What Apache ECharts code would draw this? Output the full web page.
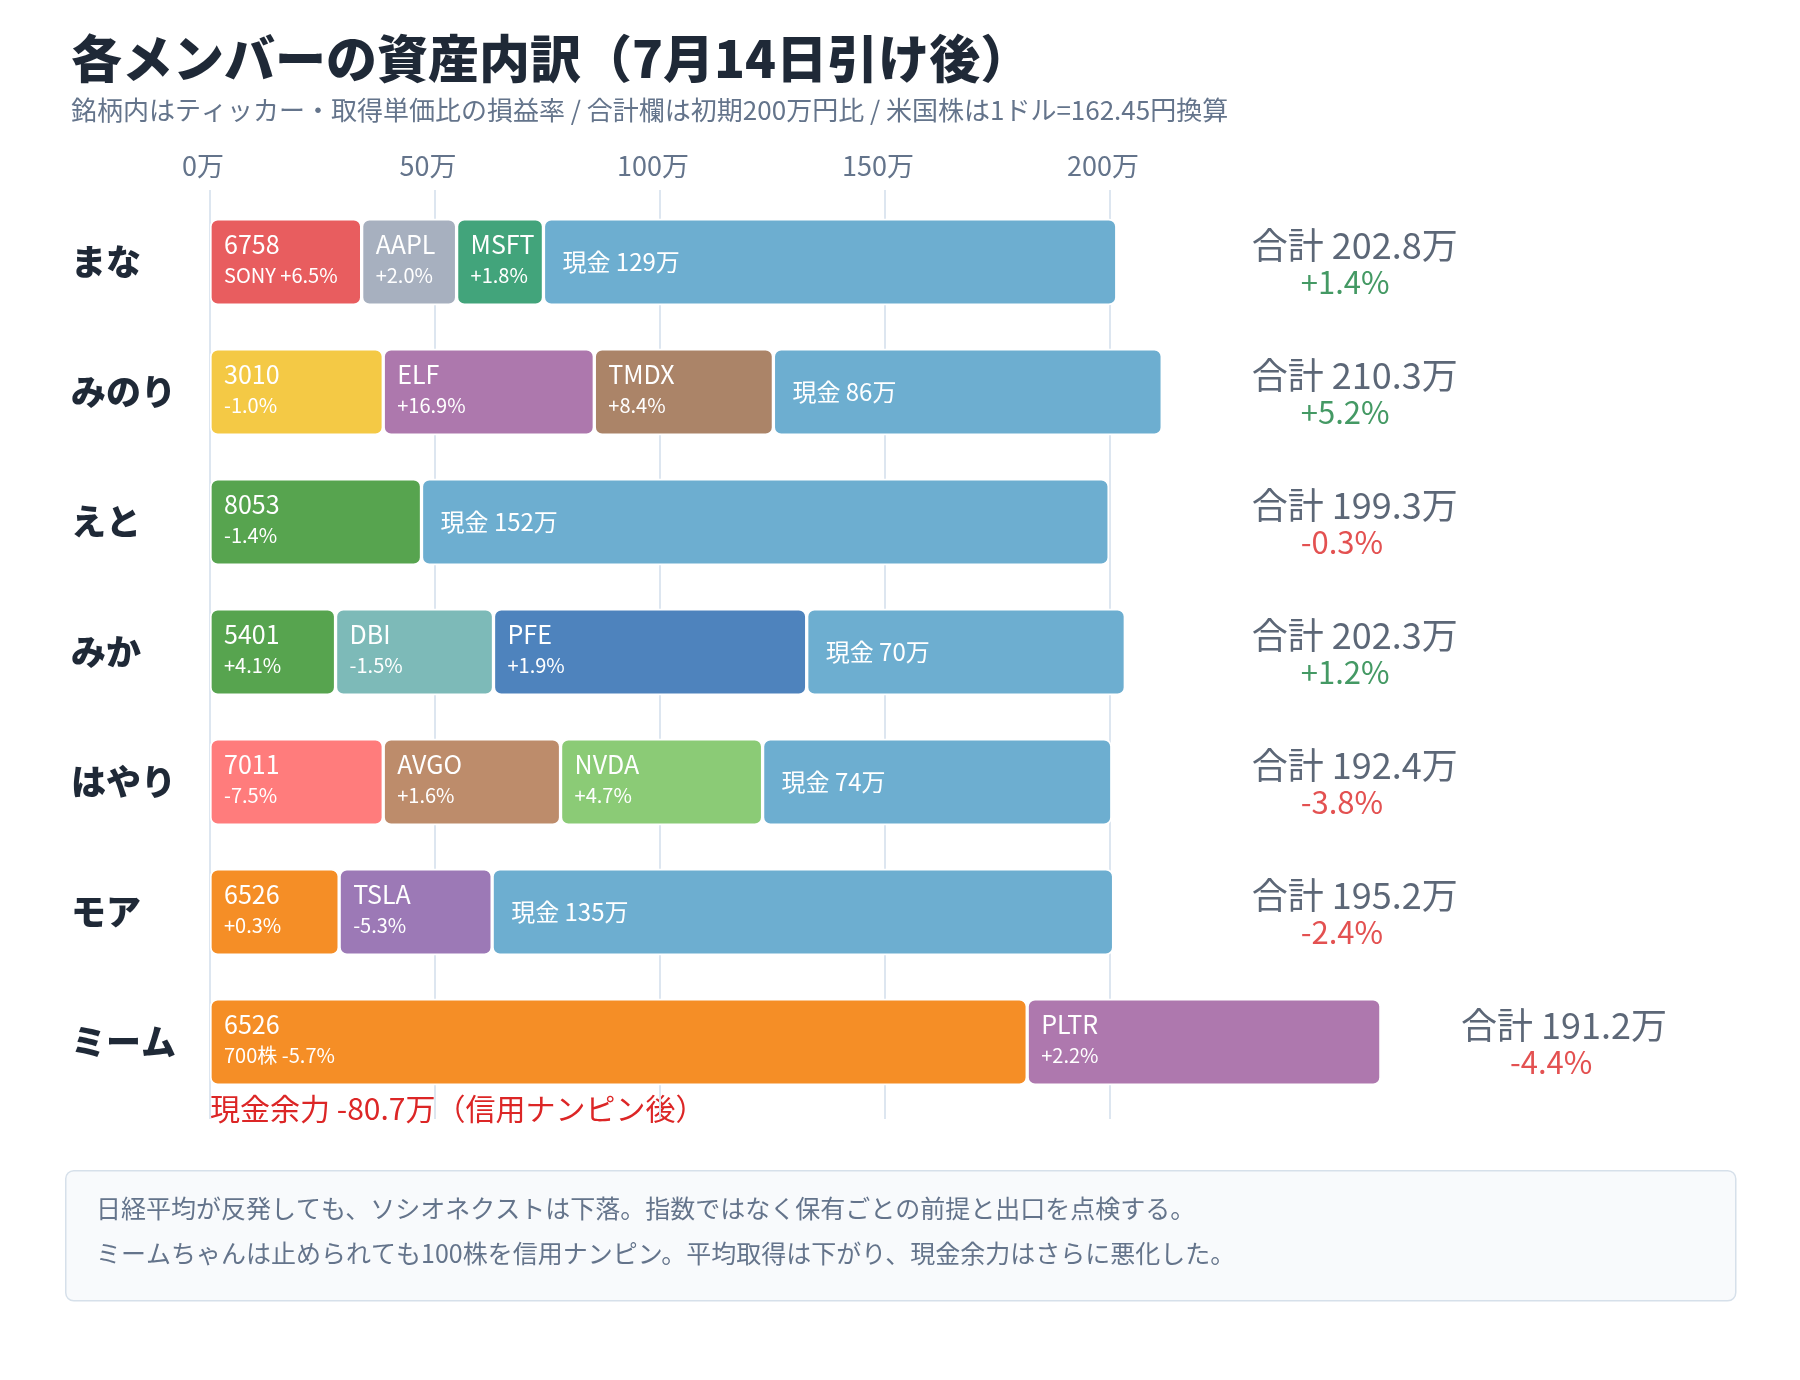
<!DOCTYPE html>
<html lang="ja">
<head>
<meta charset="utf-8">
<title>各メンバーの資産内訳</title>
<script src="https://cdn.jsdelivr.net/npm/echarts@6/dist/echarts.min.js"></script>
<style>
  html, body { margin: 0; padding: 0; background: #fff; }
  #chart { width: 1800px; height: 1380px; }
</style>
</head>
<body>
<div id="chart"></div>
<script>
// --- data (万円) ---
const members = ["まな", "みのり", "えと", "みか", "はやり", "モア", "ミーム"];
const tickers = [
  ["6758", "AAPL", "MSFT"],
  ["3010", "ELF", "TMDX"],
  ["8053"],
  ["5401", "DBI", "PFE"],
  ["7011", "AVGO", "NVDA"],
  ["6526", "TSLA"],
  ["6526", "PLTR"]
];
const subLabels = [
  ["SONY +6.5%", "+2.0%", "+1.8%"],
  ["-1.0%", "+16.9%", "+8.4%"],
  ["-1.4%"],
  ["+4.1%", "-1.5%", "+1.9%"],
  ["-7.5%", "+1.6%", "+4.7%"],
  ["+0.3%", "-5.3%"],
  ["700株 -5.7%", "+2.2%"]
];
const stockValues = [
  [33.7, 21.1, 19.3],
  [38.5, 46.9, 39.8],
  [47.0],
  [27.9, 35.1, 69.6],
  [38.5, 39.4, 44.9],
  [28.7, 34.0],
  [181.6, 78.6]
];
const cashValues = [127.4, 86.4, 152.8, 70.8, 77.6, 138.1, null];
const cashLabels = [129, 86, 152, 70, 74, 135, null];
const totals = [202.8, 210.3, 199.3, 202.3, 192.4, 195.2, 191.2];
const totalChange = [1.4, 5.2, -0.3, 1.2, -3.8, -2.4, -4.4];
const creditCash = -80.7;
const xTicks = [0, 50, 100, 150, 200];

const title = "各メンバーの資産内訳（7月14日引け後）";
const subtitle = "銘柄内はティッカー・取得単価比の損益率 / 合計欄は初期200万円比 / 米国株は1ドル=162.45円換算";
const notes = [
  "日経平均が反発しても、ソシオネクストは下落。指数ではなく保有ごとの前提と出口を点検する。",
  "ミームちゃんは止められても100株を信用ナンピン。平均取得は下がり、現金余力はさらに悪化した。"
];

// --- styles ---
const FONT = "'Noto Sans CJK JP', 'Noto Sans', sans-serif";
const tickerColors = {
  "6758": "#e85d5f", "AAPL": "#a7b0bf", "MSFT": "#42a47b",
  "3010": "#f4c945", "ELF": "#ad78ad", "TMDX": "#ab8468",
  "8053": "#57a44f", "5401": "#57a44f", "DBI": "#7dbab8", "PFE": "#4e83bd",
  "7011": "#ff7c7c", "AVGO": "#bd8c6b", "NVDA": "#8bcb76",
  "6526": "#f58e26", "TSLA": "#9c79b6", "PLTR": "#ae78ae"
};
const cashColor = "#6daed0";
const gridColor = "#dde6f0";

const chart = echarts.init(document.getElementById("chart"));

const barBase = {
  type: "bar",
  stack: "total",
  barWidth: 86.5,
  clip: false,
  silent: true,
  itemStyle: { borderRadius: 7, borderColor: "#fff", borderWidth: 1.65 }
};

const slotSeries = [0, 1, 2].map(function (slot) {
  return Object.assign({}, barBase, {
    name: "slot" + slot,
    label: {
      show: true,
      position: "insideLeft",
      distance: 14,
      offset: [0, -2],
      fontFamily: FONT,
      formatter: function (p) {
        return "{t|" + tickers[p.dataIndex][slot] + "}\n{s|" + subLabels[p.dataIndex][slot] + "}";
      },
      rich: {
        t: { fontFamily: FONT, fontSize: 25, lineHeight: 30, color: "#fff" },
        s: { fontFamily: FONT, fontSize: 20, lineHeight: 32, color: "#fff" }
      }
    },
    data: members.map(function (m, i) {
      const v = stockValues[i][slot];
      if (v === undefined) return "-";
      return { value: v, itemStyle: { color: tickerColors[tickers[i][slot]] } };
    })
  });
});

const cashSeries = Object.assign({}, barBase, {
  name: "現金",
  itemStyle: Object.assign({}, barBase.itemStyle, { color: cashColor }),
  label: {
    show: true,
    position: "insideLeft",
    distance: 19,
    fontFamily: FONT,
    fontSize: 24,
    color: "#fff",
    formatter: function (p) { return "現金 " + cashLabels[p.dataIndex] + "万"; }
  },
  data: cashValues.map(function (v) { return v === null ? "-" : v; })
});

// totals column: sits right of the longest bars, or right of the bar when it overruns
const totalSeries = {
  type: "scatter",
  symbolSize: 0,
  clip: false,
  silent: true,
  label: {
    show: true,
    position: "right",
    distance: 0,
    offset: [0, 1],
    align: "left",
    formatter: function (p) {
      const i = p.dataIndex;
      const c = totalChange[i];
      const key = c >= 0 ? "up" : "down";
      const txt = (c >= 0 ? "+" : "") + c.toFixed(1) + "%";
      return "{a|合計 " + totals[i].toFixed(1) + "万}\n{" + key + "|" + txt + "}";
    },
    rich: {
      a: { fontFamily: FONT, fontSize: 36, lineHeight: 38, color: "#334155" },
      up: { fontFamily: FONT, fontSize: 31, lineHeight: 35, color: "#15803d", padding: [0, 0, 0, 49] },
      down: { fontFamily: FONT, fontSize: 31, lineHeight: 35, color: "#dc2626", padding: [0, 0, 0, 49] }
    }
  },
  data: members.map(function (m, i) {
    const end = stockValues[i].reduce(function (a, b) { return a + b; }, 0) + (cashValues[i] || 0);
    return [Math.max(end + 17.8, 231.5), m];
  })
};

chart.setOption({
  animation: false,
  backgroundColor: "#fff",
  textStyle: { fontFamily: FONT },
  title: [
    {
      text: title, left: 71, top: 28, padding: 0,
      textStyle: { fontFamily: FONT, fontSize: 51, fontWeight: 900, color: "#1f2937", lineHeight: 62 }
    },
    {
      text: subtitle, left: 71, top: 95, padding: 0,
      textStyle: { fontFamily: FONT, fontSize: 26, fontWeight: "normal", color: "#64748b", lineHeight: 30 }
    }
  ],
  grid: { left: 210, top: 197, width: 900, height: 910, containLabel: false },
  xAxis: [
    {
      type: "value",
      position: "top",
      min: xTicks[0],
      max: xTicks[xTicks.length - 1],
      interval: xTicks[1] - xTicks[0],
      axisLine: { show: false },
      axisTick: { show: true, length: 7, lineStyle: { color: gridColor, width: 2 } },
      splitLine: { show: true, lineStyle: { color: gridColor, width: 2 } },
      axisLabel: {
        margin: 18, fontFamily: FONT, fontSize: 27, color: "#64748b",
        padding: [0, 14, 0, 0],
        formatter: function (v) { return v + "万"; }
      }
    },
    {
      type: "value",
      position: "bottom",
      min: xTicks[0],
      max: xTicks[xTicks.length - 1],
      interval: xTicks[1] - xTicks[0],
      axisLine: { show: false },
      axisTick: { show: true, length: 12, lineStyle: { color: gridColor, width: 2 } },
      splitLine: { show: false },
      axisLabel: { show: false }
    }
  ],
  yAxis: {
    type: "category",
    inverse: true,
    data: members,
    axisLine: { show: false },
    axisTick: { show: false },
    splitLine: { show: false },
    axisLabel: {
      align: "left",
      margin: 139,
      fontFamily: FONT,
      fontSize: 35,
      fontWeight: 900,
      color: "#1f2937"
    }
  },
  series: slotSeries.concat([cashSeries, totalSeries]),
  graphic: [
    {
      type: "text",
      left: 210,
      top: 1094,
      style: {
        text: "現金余力 " + creditCash.toFixed(1) + "万（信用ナンピン後）",
        font: "30px " + FONT,
        fill: "#dc2626"
      }
    },
    {
      type: "rect",
      left: 65,
      top: 1170,
      shape: { width: 1670, height: 130, r: 8 },
      style: { fill: "#f8fafc", stroke: "#d6e0ea", lineWidth: 1.5 }
    },
    {
      type: "text",
      left: 96,
      top: 1196,
      style: { text: notes[0], font: "25px " + FONT, fill: "#64748b" }
    },
    {
      type: "text",
      left: 96,
      top: 1241,
      style: { text: notes[1], font: "25px " + FONT, fill: "#64748b" }
    }
  ]
});
</script>
</body>
</html>
